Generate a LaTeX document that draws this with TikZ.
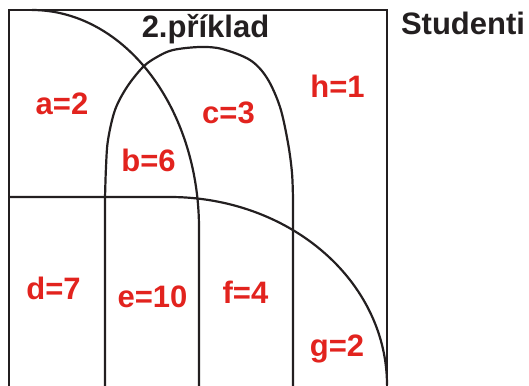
\documentclass[tikz,border=0pt]{standalone}
\usepackage{fontspec}
\setmainfont{Liberation Sans}
\definecolor{lbl}{RGB}{226,35,30}
\definecolor{ink}{RGB}{35,31,32}
\begin{document}
\begin{tikzpicture}[x=1pt,y=-1pt,
  frame/.style={draw=ink,line width=2.8pt},
  setline/.style={draw=ink,line width=2.2pt},
  title/.style={anchor=base,inner sep=0pt,text=ink,font=\fontsize{31}{34}\selectfont\bfseries},
  val/.style={anchor=base,inner sep=0pt,text=lbl,font=\fontsize{31}{34}\selectfont\bfseries}]
\useasboundingbox (0,0) rectangle (529,385);
% universe rectangle
\draw[frame] (9,389) -- (9,10) -- (387,10) -- (387,389);
% set A (top-left quarter curve + vertical)
\draw[setline] plot[domain=270:360,samples=80] ({32+167*cos(\x)},{228+218*sin(\x)}) -- (199,389);
% set B (arch)
\draw[setline] (105,389) -- plot[smooth,tension=0.55] coordinates {(105,198) (106,167) (108,140) (115,110) (127,87) (143,67) (157,57) (173,50) (200,47) (222,49) (250,60) (267,78) (280,107) (288,143) (292,173) (293,200)} -- (293,389);
% set C (horizontal + big quarter curve)
\draw[setline] (9,197) -- (170,197) -- plot[domain=270:360,samples=80] ({170+217*cos(\x)},{385+188*sin(\x)});
% titles
\node[title] (t1) at (205.5,38) {2.příklad};
\node[title] (t2) at (463,35) {Studenti};
% region values
\node[val] (a) at (62,114) {a=2};
\node[val] (b) at (148.5,171) {b=6};
\node[val] (c) at (228.5,123) {c=3};
\node[val] (h) at (337.5,98) {h=1};
\node[val] (d) at (53.5,299) {d=7};
\node[val] (e) at (152.5,307) {e=10};
\node[val] (f) at (245.5,303) {f=4};
\node[val] (g) at (337,356) {g=2};
\end{tikzpicture}
\end{document}
